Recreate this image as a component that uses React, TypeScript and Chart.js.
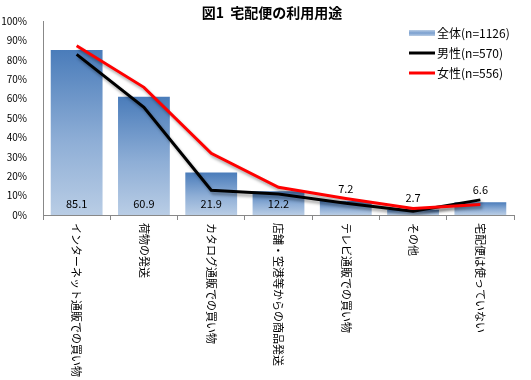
import React, { useEffect, useRef } from "react";
import { Chart, registerables } from "chart.js";

Chart.register(...registerables);

const TITLE = "図1  宅配便の利用用途";
const categories = [
  "インターネット通販での買い物",
  "荷物の発送",
  "カタログ通販での買い物",
  "店舗・空港等からの商品発送",
  "テレビ通販での買い物",
  "その他",
  "宅配便は使っていない",
];
const totalLabel = "全体(n=1126)";
const maleLabel = "男性(n=570)";
const femaleLabel = "女性(n=556)";
const totalValues = [85.1, 60.9, 21.9, 12.2, 7.2, 2.7, 6.6];
const maleValues = [82.8, 55.5, 12.8, 10.8, 6.0, 2.0, 7.8];
const femaleValues = [87.2, 65.8, 31.8, 14.3, 8.5, 3.4, 5.4];
const yTicks = [0, 10, 20, 30, 40, 50, 60, 70, 80, 90, 100];

const FONT = '"Noto Sans CJK JP", "Noto Sans", sans-serif';

function barGradient(ctx: any) {
  const chart = ctx.chart;
  const y = chart.scales?.y;
  if (!y || ctx.raw == null) return "#7a9fcf";
  const top = y.getPixelForValue(ctx.raw);
  const bottom = y.getPixelForValue(0);
  if (!isFinite(top) || !isFinite(bottom) || bottom - top < 0.5) return "#4f81bd";
  const g = chart.ctx.createLinearGradient(0, top, 0, bottom);
  g.addColorStop(0, "#4a7cba");
  g.addColorStop(0.55, "#8eaed6");
  g.addColorStop(1, "#b9cde5");
  return g;
}

const customPlugin = {
  id: "custom",
  beforeDatasetDraw(chart: any, args: any) {
    const ds = chart.data.datasets[args.index];
    if (ds.type === "line") {
      const c = chart.ctx;
      c.save();
      c.shadowColor = "rgba(0,0,0,0.35)";
      c.shadowBlur = 3;
      c.shadowOffsetX = 2;
      c.shadowOffsetY = 3;
    }
  },
  afterDatasetDraw(chart: any, args: any) {
    const ds = chart.data.datasets[args.index];
    if (ds.type === "line") chart.ctx.restore();
  },
  afterDraw(chart: any) {
    const c = chart.ctx;
    const x = chart.scales.x;
    const y = chart.scales.y;
    c.save();
    // title
    c.fillStyle = "#000";
    c.font = `bold 14px ${FONT}`;
    c.textAlign = "center";
    c.textBaseline = "middle";
    c.fillText(TITLE, 272, 13);

    // bar data labels
    c.font = `11px ${FONT}`;
    c.fillStyle = "#000";
    const base = y.getPixelForValue(0);
    totalValues.forEach((v, i) => {
      const px = x.getPixelForValue(i);
      const top = y.getPixelForValue(v);
      const ly = v >= 10 ? base - 11 : top - 12;
      c.fillText(v.toFixed(1), px, ly);
    });

    // x labels rotated clockwise
    c.font = `11px ${FONT}`;
    c.textAlign = "left";
    c.textBaseline = "middle";
    categories.forEach((lab, i) => {
      const px = x.getPixelForValue(i);
      c.save();
      c.translate(px, base + 8);
      c.rotate(Math.PI / 2);
      c.fillText(lab, 0, 0);
      c.restore();
    });

    // legend
    const items = [
      { label: totalLabel, kind: "bar" },
      { label: maleLabel, kind: "line", color: "#000000" },
      { label: femaleLabel, kind: "line", color: "#ff0000" },
    ];
    c.font = `12px ${FONT}`;
    items.forEach((it: any, k) => {
      const ly = 33 + k * 20;
      if (it.kind === "bar") {
        const g = c.createLinearGradient(0, ly - 3, 0, ly + 3);
        g.addColorStop(0, "#b9cde5");
        g.addColorStop(0.5, "#7a9fcf");
        g.addColorStop(1, "#b9cde5");
        c.fillStyle = g;
        c.fillRect(409, ly - 3, 26, 6);
      } else {
        c.strokeStyle = it.color;
        c.lineWidth = 3;
        c.beginPath();
        c.moveTo(409, ly);
        c.lineTo(435, ly);
        c.stroke();
      }
      c.fillStyle = "#000";
      c.textAlign = "left";
      c.fillText(it.label, 437, ly);
    });
    c.restore();
  },
};

export default function App() {
  const ref = useRef<HTMLCanvasElement>(null);
  useEffect(() => {
    document.body.style.margin = "0";
    const chart = new Chart(ref.current!, {
      type: "bar",
      data: {
        labels: categories,
        datasets: [
          {
            type: "line",
            label: femaleLabel,
            data: femaleValues,
            borderColor: "#ff0000",
            borderWidth: 3,
            pointRadius: 0,
            tension: 0,
            order: 0,
          } as any,
          {
            type: "line",
            label: maleLabel,
            data: maleValues,
            borderColor: "#000000",
            borderWidth: 3,
            pointRadius: 0,
            tension: 0,
            order: 1,
          } as any,
          {
            type: "bar",
            label: totalLabel,
            data: totalValues,
            backgroundColor: barGradient,
            categoryPercentage: 1,
            barPercentage: 0.77,
            order: 2,
          } as any,
        ],
      },
      options: {
        animation: false,
        responsive: false,
        devicePixelRatio: 1,
        layout: { padding: { top: 21, right: 17, left: 0, bottom: 0 } },
        plugins: {
          legend: { display: false },
          title: { display: false },
          tooltip: { enabled: false },
        },
        scales: {
          x: {
            offset: true,
            grid: {
              display: true,
              offset: true,
              drawOnChartArea: false,
              drawTicks: true,
              tickLength: 5,
              color: "#888888",
            },
            border: { display: true, color: "#888888" },
            ticks: { display: false },
            afterFit: (s: any) => {
              s.height = 165;
            },
          },
          y: {
            min: 0,
            max: 100,
            grid: { display: false },
            border: { display: true, color: "#888888" },
            afterBuildTicks: (s: any) => {
              s.ticks = yTicks.map((v) => ({ value: v }));
            },
            ticks: {
              font: { family: FONT, size: 10 },
              color: "#000",
              padding: 8,
              callback: (v: any) => v + "%",
            },
            afterFit: (s: any) => {
              s.width = 43;
            },
          },
        },
      },
      plugins: [customPlugin],
    });
    return () => chart.destroy();
  }, []);
  return <canvas ref={ref} width={531} height={380} style={{ display: "block" }} />;
}
